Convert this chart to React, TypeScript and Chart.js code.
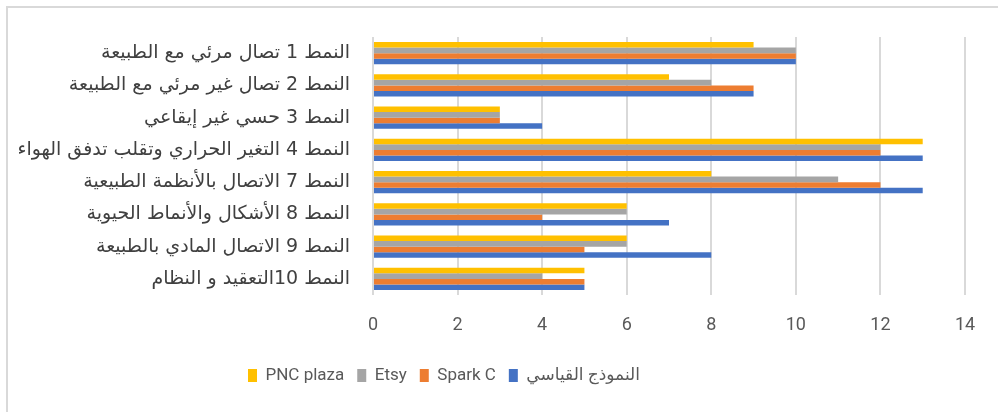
import React, { useEffect, useRef } from "react";
import { Chart, registerables } from "chart.js";

Chart.register(...registerables);

const categories = [
  "النمط 1 تصال مرئي مع الطبيعة",
  "النمط 2 تصال غير مرئي مع الطبيعة",
  "النمط 3 حسي غير إيقاعي",
  "النمط 4 التغير الحراري وتقلب تدفق الهواء",
  "النمط 7 الاتصال بالأنظمة الطبيعية",
  "النمط 8 الأشكال والأنماط الحيوية",
  "النمط 9 الاتصال المادي بالطبيعة",
  "النمط 10التعقيد و النظام",
];

const seriesNames = ["PNC plaza", "Etsy", "Spark C", "النموذج القياسي"];
const pncPlaza = [9, 7, 3, 13, 8, 6, 6, 5];
const etsy = [10, 8, 3, 12, 11, 6, 6, 4];
const sparkC = [10, 9, 3, 12, 12, 4, 5, 5];
const standardModel = [10, 9, 4, 13, 13, 7, 8, 5];
const seriesColors = ["#FFC000", "#A5A5A5", "#ED7D31", "#4472C4"];
const xMin = 0;
const xMax = 14;
const xStep = 2;

const FONT = 'Roboto, "DejaVu Sans", sans-serif';

export default function App() {
  const ref = useRef<HTMLCanvasElement | null>(null);

  useEffect(() => {
    if (!ref.current) return;
    const values = [pncPlaza, etsy, sparkC, standardModel];
    const legendShift = {
      id: "legendShift",
      afterLayout(chart: any) {
        if (chart.legend) {
          const pad = chart.legend.options.labels.padding;
          chart.legend.left = 248 - pad;
        }
      },
    };
    const chart = new Chart(ref.current, {
      type: "bar",
      data: {
        labels: categories,
        datasets: seriesNames.map((name, i) => ({
          label: name,
          data: values[i],
          backgroundColor: seriesColors[i],
          borderWidth: 0,
          barPercentage: 1,
          categoryPercentage: 0.69,
        })),
      },
      options: {
        indexAxis: "y",
        animation: false,
        responsive: false,
        maintainAspectRatio: false,
        layout: { padding: { top: 37, right: 33, left: 0, bottom: 18 } },
        plugins: {
          legend: {
            position: "bottom",
            align: "start",
            labels: {
              boxWidth: 9,
              boxHeight: 13,
              padding: 13,
              color: "#595959",
              font: { family: FONT, size: 17 },
            },
          },
          tooltip: { enabled: false },
        },
        scales: {
          x: {
            min: xMin,
            max: xMax,
            ticks: {
              stepSize: xStep,
              color: "#595959",
              padding: 20,
              font: { family: FONT, size: 18 },
            },
            grid: { color: "#D9D9D9", lineWidth: 2, drawTicks: false },
            border: { display: false },
            afterFit(scale: any) {
              scale.height = 59;
            },
          },
          y: {
            ticks: {
              color: "#404040",
              padding: 23,
              font: { family: '"DejaVu Sans", sans-serif', size: 19 },
            },
            grid: { display: false, drawTicks: false },
            border: { display: false },
            afterFit(scale: any) {
              scale.width = 373;
            },
          },
        },
      },
      plugins: [legendShift],
    });
    return () => chart.destroy();
  }, []);

  return (
    <div style={{ position: "fixed", left: 0, top: 0, width: 998, height: 412, background: "#fff", overflow: "hidden" }}>
      <div
        style={{
          position: "absolute",
          left: 6,
          top: 6,
          width: 1100,
          height: 500,
          borderLeft: "2px solid #D9D9D9",
          borderTop: "2px solid #D9D9D9",
        }}
      />
      <canvas ref={ref} width={998} height={412} style={{ position: "absolute", left: 0, top: 0, width: 998, height: 412 }} />
    </div>
  );
}
